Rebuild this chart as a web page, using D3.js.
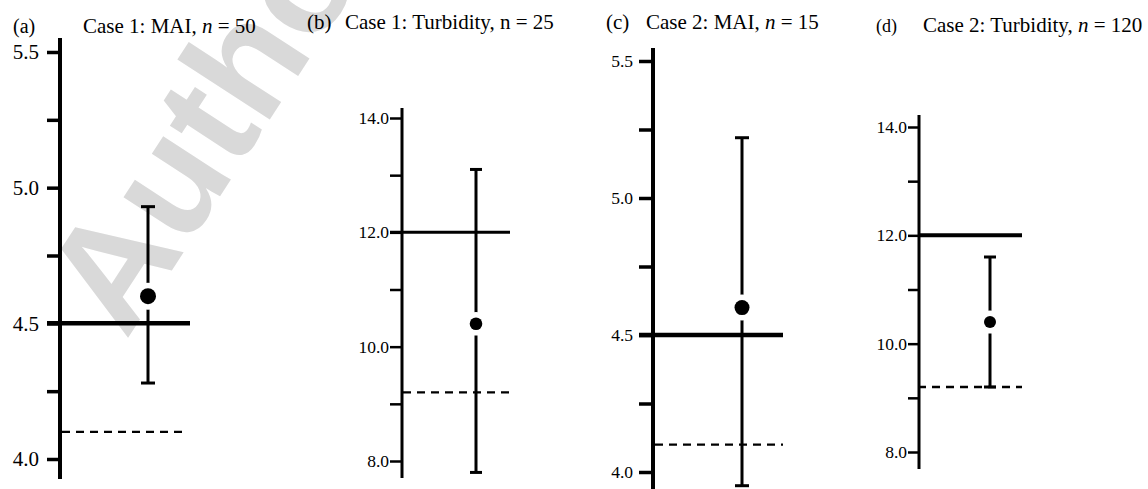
<!DOCTYPE html>
<html>
<head>
<meta charset="utf-8">
<script src="https://cdn.jsdelivr.net/npm/d3@7"></script>
<style>
  html, body { margin: 0; padding: 0; background: #fff; }
  svg { display: block; }
</style>
</head>
<body>
<div id="chart"></div>
<script>
// data
var panelLabels = ['(a)', '(b)', '(c)', '(d)'];
var titleHeads = ['Case 1: MAI, ', 'Case 1: Turbidity, ', 'Case 2: MAI, ', 'Case 2: Turbidity, '];
var italicN = [true, false, true, true];
var sampleSizes = [50, 25, 15, 120];
var domains = [[4.0, 5.5], [8.0, 14.0], [4.0, 5.5], [8.0, 14.0]];
var majorTicks = [[4.0, 4.5, 5.0, 5.5], [8, 10, 12, 14], [4.0, 4.5, 5.0, 5.5], [8, 10, 12, 14]];
var minorTicks = [[4.25, 4.75, 5.25], [9, 11, 13], [4.25, 4.75, 5.25], [9, 11, 13]];
var means = [4.6, 10.4, 4.6, 10.4];
var lowers = [4.28, 7.8, 3.95, 9.2];
var uppers = [4.93, 13.1, 5.22, 11.6];
var solidRefs = [4.5, 12.0, 4.5, 12.0];
var dashedRefs = [4.1, 9.2, 4.1, 9.2];

// layout of each panel (pixels)
var layout = [
  { axisX: 60, top: 38, bottom: 479, range: [459, 52], tickLen: 13, axisW: 4, fs: 21, gap: 8,
    barX: 148, capW: 14, refX1: 47, refX2: 190, dashX1: 62, dashX2: 188, dotR: 8, refW: 4.5,
    labelX: 13, labelFs: 20, titleX: 83, titleY: 33 },
  { axisX: 402, top: 108, bottom: 478, range: [461, 118], tickLen: 12, axisW: 3, fs: 17.5, gap: 1,
    barX: 476, capW: 12, refX1: 390, refX2: 510, dashX1: 403, dashX2: 510, dotR: 6.3, refW: 3,
    labelX: 307, labelFs: 21, titleX: 345, titleY: 29 },
  { axisX: 653, top: 48, bottom: 489, range: [472, 61], tickLen: 14, axisW: 4, fs: 17.5, gap: 6,
    barX: 742, capW: 14, refX1: 639, refX2: 783, dashX1: 655, dashX2: 783, dotR: 7.5, refW: 4.5,
    labelX: 606, labelFs: 21, titleX: 646, titleY: 29 },
  { axisX: 919, top: 115, bottom: 469, range: [452, 127], tickLen: 11, axisW: 3, fs: 17.5, gap: 1,
    barX: 990, capW: 12, refX1: 919, refX2: 1022, dashX1: 918, dashX2: 1022, dotR: 6, refW: 4,
    labelX: 876, labelFs: 18, titleX: 923, titleY: 32 }
];

var width = 1148;
var height = 489;
var serif = '"Liberation Serif", "Times New Roman", Times, serif';

var svg = d3.select('#chart')
  .append('svg')
  .attr('width', width)
  .attr('height', height);

// watermark
svg.append('text')
  .attr('transform', 'translate(126,341) rotate(-57)')
  .style('font-family', '"Liberation Sans", Arial, sans-serif')
  .attr('font-weight', 'bold')
  .attr('font-size', 152)
  .attr('fill', '#d9d9d9')
  .text('Author');

panelLabels.forEach(function (label, i) {
  var L = layout[i];
  var y = d3.scaleLinear().domain(domains[i]).range(L.range);
  var g = svg.append('g');

  // titles
  g.append('text')
    .attr('x', L.labelX)
    .attr('y', L.titleY)
    .style('font-family', serif)
    .attr('font-size', L.labelFs)
    .text(label);

  var title = g.append('text')
    .attr('x', L.titleX)
    .attr('y', L.titleY)
    .style('font-family', serif)
    .attr('font-size', 21);
  title.append('tspan').text(titleHeads[i]);
  title.append('tspan').attr('font-style', italicN[i] ? 'italic' : 'normal').text('n');
  title.append('tspan').text(' = ' + sampleSizes[i]);

  // axis
  var major = d3.axisLeft(y)
    .tickValues(majorTicks[i])
    .tickSize(L.tickLen)
    .tickPadding(L.gap)
    .tickFormat(d3.format('.1f'));
  var minor = d3.axisLeft(y)
    .tickValues(minorTicks[i])
    .tickSize(L.tickLen)
    .tickFormat('');

  [major, minor].forEach(function (ax) {
    var a = g.append('g')
      .attr('transform', 'translate(' + L.axisX + ',0)')
      .call(ax)
      .attr('font-family', serif)
      .attr('font-size', L.fs);
    a.select('.domain').remove();
    a.selectAll('.tick line')
      .attr('stroke', '#000')
      .attr('stroke-width', L.axisW - 0.5);
    a.selectAll('.tick text')
      .attr('fill', '#000')
      .style('font-family', serif)
      .style('font-size', L.fs + 'px');
  });

  g.append('line')
    .attr('x1', L.axisX).attr('x2', L.axisX)
    .attr('y1', L.top).attr('y2', L.bottom)
    .attr('stroke', '#000')
    .attr('stroke-width', L.axisW);

  // reference lines
  g.append('line')
    .attr('x1', L.refX1).attr('x2', L.refX2)
    .attr('y1', y(solidRefs[i])).attr('y2', y(solidRefs[i]))
    .attr('stroke', '#000')
    .attr('stroke-width', L.refW);

  g.append('line')
    .attr('x1', L.dashX1).attr('x2', L.dashX2)
    .attr('y1', y(dashedRefs[i])).attr('y2', y(dashedRefs[i]))
    .attr('stroke', '#000')
    .attr('stroke-width', 2.3)
    .attr('stroke-dasharray', '8,6');

  // error bar
  g.append('line')
    .attr('x1', L.barX).attr('x2', L.barX)
    .attr('y1', y(lowers[i])).attr('y2', y(uppers[i]))
    .attr('stroke', '#000')
    .attr('stroke-width', 3);

  [lowers[i], uppers[i]].forEach(function (v) {
    g.append('line')
      .attr('x1', L.barX - L.capW / 2).attr('x2', L.barX + L.capW / 2)
      .attr('y1', y(v)).attr('y2', y(v))
      .attr('stroke', '#000')
      .attr('stroke-width', 3);
  });

  g.append('circle')
    .attr('cx', L.barX)
    .attr('cy', y(means[i]))
    .attr('r', L.dotR + 5.5)
    .attr('fill', '#fff');

  g.append('circle')
    .attr('cx', L.barX)
    .attr('cy', y(means[i]))
    .attr('r', L.dotR)
    .attr('fill', '#000');
});
</script>
</body>
</html>
